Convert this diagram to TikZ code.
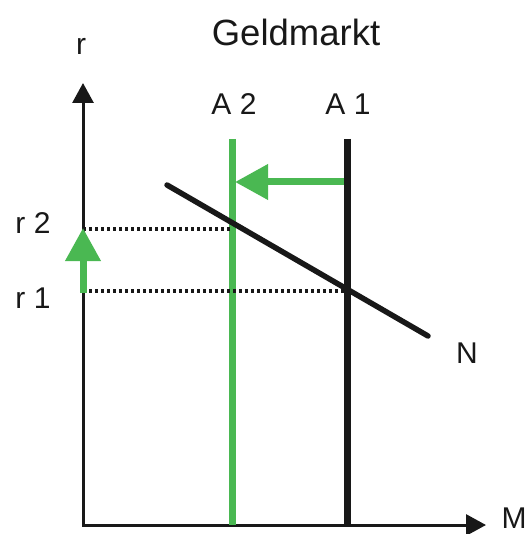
\documentclass[tikz,border=0pt]{standalone}
\usepackage{fontspec}
\setmainfont{Liberation Sans}
\usepackage{tikz}
\usetikzlibrary{arrows.meta}
\usepackage{xcolor}
\definecolor{shiftgreen}{RGB}{74,184,82}
\definecolor{curveblack}{RGB}{24,24,24}
\tikzset{
  lbl/.style={inner sep=0pt, font=\fontsize{30}{36}\selectfont, text=curveblack},
  titlelbl/.style={lbl, font=\fontsize{36.5}{44}\selectfont},
  axis/.style={line width=3pt, color=curveblack,
    {Triangle[length=20pt,width=21pt]}-{Triangle[length=20pt,width=21pt]}},
  supplyline/.style={line width=7pt, color=curveblack},
  shiftline/.style={line width=7pt, color=shiftgreen},
  demandline/.style={line width=5.5pt, color=curveblack, line cap=round},
  dottedline/.style={line width=3.4pt, color=curveblack, dash pattern=on 3.3pt off 2.7pt},
  greenarrow/.style={-{Triangle[length=33pt,width=34pt]}, line width=7pt, color=shiftgreen}
}

\begin{document}
\begin{tikzpicture}[x=1pt, y=-1pt]
  \useasboundingbox (0,0) rectangle (530,534);

  % axes
  \coordinate (O) at (83,525);
  \coordinate (rtop) at (83,83);
  \coordinate (Mend) at (486,525);
  \draw[axis] (rtop) -- (O) -- (Mend);
  \node[lbl] (rlabel) at (81,46) {r};
  \node[lbl] (Mlabel) at (514,518) {M};
  \node[titlelbl] (title) at (296,32) {Geldmarkt};

  % money supply A 1 and A 2
  \coordinate (a1top) at (347,139);
  \coordinate (a1bot) at (347,525);
  \coordinate (a2top) at (232,139);
  \coordinate (a2bot) at (232,525);
  \draw[shiftline] (a2top) -- (a2bot);
  \draw[supplyline] (a1top) -- (a1bot);
  \node[lbl] (A2) at (234,104) {A 2};
  \node[lbl] (A1) at (348,104) {A 1};

  % money demand N
  \coordinate (nstart) at (167,185);
  \coordinate (nend) at (428,336);
  \draw[demandline] (nstart) -- (nend);
  \node[lbl] (Nlabel) at (467,353) {N};

  % interest levels
  \coordinate (r2axis) at (83,229);
  \coordinate (r2cut) at (230,229);
  \coordinate (r1axis) at (83,291);
  \coordinate (r1cut) at (345,291);
  \draw[dottedline] (r2axis) -- (r2cut);
  \draw[dottedline] (r1axis) -- (r1cut);
  \node[lbl] (r2) at (33,223) {r 2};
  \node[lbl] (r1) at (33,298) {r 1};

  % shifts
  \coordinate (shiftfrom) at (344,182);
  \coordinate (shiftto) at (235,182);
  \draw[greenarrow] (shiftfrom) -- (shiftto);
  \coordinate (risefrom) at (83,293);
  \coordinate (riseto) at (83,228);
  \draw[greenarrow] (risefrom) -- (riseto);
\end{tikzpicture}
\end{document}
